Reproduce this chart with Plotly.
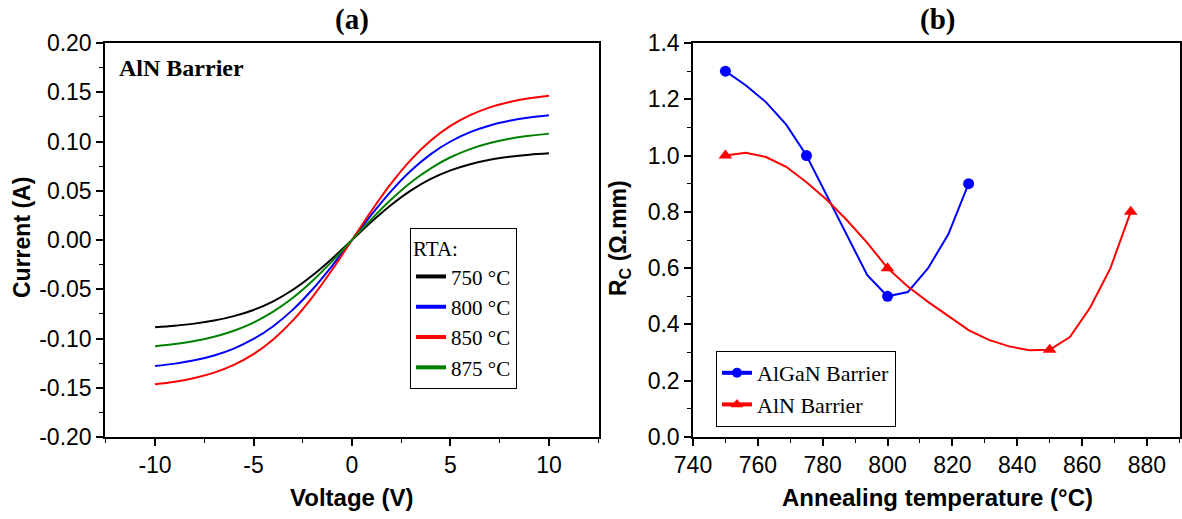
import plotly.graph_objects as go

# ---------------- data: panel (a) I-V curves ----------------
voltage = [-10, -9, -8, -7, -6, -5, -4, -3, -2, -1, 0, 1, 2, 3, 4, 5, 6, 7, 8, 9, 10]
i_750 = [-0.0885, -0.0870, -0.0849, -0.0818, -0.0773, -0.0710, -0.0622, -0.0505, -0.0358, -0.0187, 0.0,
         0.0187, 0.0358, 0.0504, 0.0620, 0.0707, 0.0770, 0.0815, 0.0845, 0.0866, 0.0880]
i_800 = [-0.1280, -0.1255, -0.1221, -0.1172, -0.1102, -0.1005, -0.0875, -0.0707, -0.0500, -0.0259, 0.0,
         0.0259, 0.0499, 0.0705, 0.0872, 0.1000, 0.1095, 0.1163, 0.1210, 0.1243, 0.1266]
i_850 = [-0.1465, -0.1439, -0.1401, -0.1346, -0.1267, -0.1158, -0.1009, -0.0816, -0.0577, -0.0300, 0.0,
         0.0300, 0.0577, 0.0816, 0.1009, 0.1158, 0.1267, 0.1346, 0.1401, 0.1439, 0.1465]
i_875 = [-0.1078, -0.1056, -0.1026, -0.0982, -0.0921, -0.0838, -0.0727, -0.0586, -0.0413, -0.0214, 0.0,
         0.0214, 0.0413, 0.0587, 0.0728, 0.0840, 0.0923, 0.0984, 0.1028, 0.1058, 0.1080]
rta_labels = ["750 °C", "800 °C", "850 °C", "875 °C"]

# ---------------- data: panel (b) contact resistance ----------------
algan_temp = [750, 775, 800, 825]
algan_rc = [1.30, 1.00, 0.50, 0.90]
algan_fit_temp = [750, 756.25, 762.5, 768.75, 775, 781.25, 787.5, 793.75, 800, 806.25, 812.5, 818.75, 825]
algan_fit_rc = [1.30, 1.25, 1.19, 1.11, 1.00, 0.86, 0.72, 0.575, 0.50, 0.515, 0.60, 0.72, 0.90]

aln_temp = [750, 800, 850, 875]
aln_rc = [1.00, 0.60, 0.31, 0.80]
aln_fit_temp = [750, 756.25, 762.5, 768.75, 775, 781.25, 787.5, 793.75, 800, 806.25, 812.5, 818.75,
                825, 831.25, 837.5, 843.75, 850, 856.25, 862.5, 868.75, 875]
aln_fit_rc = [1.00, 1.01, 0.995, 0.96, 0.905, 0.843, 0.77, 0.69, 0.60, 0.535, 0.48, 0.43,
              0.38, 0.345, 0.322, 0.308, 0.31, 0.355, 0.46, 0.60, 0.80]

# tick labels
ya_vals = [0.20, 0.15, 0.10, 0.05, 0.00, -0.05, -0.10, -0.15, -0.20]
ya_text = ["0.20", "0.15", "0.10", "0.05", "0.00", "-0.05", "-0.10", "-0.15", "-0.20"]
xa_vals = [-10, -5, 0, 5, 10]
xa_text = ["-10", "-5", "0", "5", "10"]

SANS = "Liberation Sans, Arial, sans-serif"
SERIF = "Liberation Serif, Times New Roman, serif"

fig = go.Figure()

colors_a = ["#000000", "#0000ff", "#ff0000", "#008000"]
for lab, ys, c in zip(rta_labels, [i_750, i_800, i_850, i_875], colors_a):
    fig.add_trace(go.Scatter(x=voltage, y=ys, mode="lines", name=lab, showlegend=False,
                             line=dict(color=c, width=2, shape="spline"),
                             xaxis="x", yaxis="y"))
# legend entries for panel a (thicker sample lines, as in the reference)
for lab, c in zip(rta_labels, colors_a):
    fig.add_trace(go.Scatter(x=[None], y=[None], mode="lines", name=lab,
                             line=dict(color=c, width=4), xaxis="x", yaxis="y", legend="legend"))

# panel b lines
fig.add_trace(go.Scatter(x=algan_fit_temp, y=algan_fit_rc, mode="lines", showlegend=False,
                         line=dict(color="#0000ff", width=2), xaxis="x2", yaxis="y2"))
fig.add_trace(go.Scatter(x=aln_fit_temp, y=aln_fit_rc, mode="lines", showlegend=False,
                         line=dict(color="#ff0000", width=2), xaxis="x2", yaxis="y2"))
fig.add_trace(go.Scatter(x=algan_temp, y=algan_rc, mode="markers", showlegend=False,
                         marker=dict(color="#0000ff", size=11, symbol="circle"), xaxis="x2", yaxis="y2"))
fig.add_trace(go.Scatter(x=aln_temp, y=aln_rc, mode="markers", showlegend=False,
                         marker=dict(color="#ff0000", size=12, symbol="triangle-up"), xaxis="x2", yaxis="y2"))
# legend entries for panel b
fig.add_trace(go.Scatter(x=[None], y=[None], mode="lines+markers", name="AlGaN Barrier",
                         line=dict(color="#0000ff", width=4), marker=dict(color="#0000ff", size=10, symbol="circle"),
                         xaxis="x2", yaxis="y2", legend="legend2"))
fig.add_trace(go.Scatter(x=[None], y=[None], mode="lines+markers", name="AlN Barrier",
                         line=dict(color="#ff0000", width=4), marker=dict(color="#ff0000", size=11, symbol="triangle-up"),
                         xaxis="x2", yaxis="y2", legend="legend2"))

axis_common = dict(showline=True, linecolor="black", linewidth=1.5, mirror=True, ticks="outside",
                   ticklen=7, tickwidth=1.5, tickcolor="black", showgrid=False, zeroline=False,
                   automargin=False, tickfont=dict(family=SANS, size=23, color="black"))
minor_common = dict(ticks="outside", ticklen=4, tickwidth=1.2, tickcolor="black", showgrid=False)

ydom = [82 / 519, 476 / 519]
fig.update_layout(
    template="none",
    width=1182, height=519,
    margin=dict(l=0, r=0, t=0, b=0),
    paper_bgcolor="white", plot_bgcolor="white",
    xaxis=dict(domain=[105 / 1182, 599 / 1182], range=[-12.54, 12.54], tickmode="array",
               tickvals=xa_vals, ticktext=xa_text, minor=dict(dtick=2.5, tick0=0, **minor_common),
               anchor="y", **axis_common),
    yaxis=dict(domain=ydom, range=[-0.2, 0.2], tickmode="array", tickvals=ya_vals, ticktext=ya_text,
               minor=dict(dtick=0.025, tick0=0, **minor_common), anchor="x", **axis_common),
    xaxis2=dict(domain=[693 / 1182, 1180 / 1182], range=[740, 890.2], tickmode="linear", tick0=740, dtick=20,
                minor=dict(dtick=10, tick0=740, **minor_common), anchor="y2", **axis_common),
    yaxis2=dict(domain=ydom, range=[0, 1.4], tickmode="linear", tick0=0, dtick=0.2, tickformat=".1f",
                minor=dict(dtick=0.1, tick0=0, **minor_common), anchor="x2", **axis_common),
    legend=dict(x=410 / 1182, y=1 - 228 / 519, xanchor="left", yanchor="top",
                bordercolor="black", borderwidth=1, bgcolor="white",
                font=dict(family=SERIF, size=21, color="black"),
                title=dict(text="RTA:", side="top", font=dict(family=SERIF, size=21, color="black")),
                tracegroupgap=0, itemwidth=30),
    legend2=dict(x=716 / 1182, y=1 - 351 / 519, xanchor="left", yanchor="top",
                 bordercolor="black", borderwidth=1, bgcolor="white",
                 font=dict(family=SERIF, size=22, color="black"),
                 tracegroupgap=0, itemwidth=30),
)

annots = [
    dict(text="<b>(a)</b>", x=352 / 1182, y=1 - 19 / 519, font=dict(family=SERIF, size=29)),
    dict(text="<b>(b)</b>", x=937 / 1182, y=1 - 19 / 519, font=dict(family=SERIF, size=29)),
    dict(text="<b>AlN Barrier</b>", x=117 / 1182, y=1 - 68 / 519, xanchor="left", font=dict(family=SERIF, size=24)),
    dict(text="<b>Current (A)</b>", x=22 / 1182, y=1 - 238 / 519, textangle=-90, font=dict(family=SANS, size=23)),
    dict(text="<b>Voltage (V)</b>", x=352 / 1182, y=1 - 497 / 519, font=dict(family=SANS, size=24)),
    dict(text="<b>R<sub>C</sub> (Ω.mm)</b>", x=620 / 1182, y=1 - 238 / 519, textangle=-90, font=dict(family=SANS, size=23)),
    dict(text="<b>Annealing temperature (°C)</b>", x=937 / 1182, y=1 - 497 / 519, font=dict(family=SANS, size=24)),
]
for a in annots:
    base = dict(xref="paper", yref="paper", showarrow=False, xanchor="center", yanchor="middle")
    base.update(a)
    base["font"] = dict(color="black", **a["font"])
    fig.add_annotation(**base)

fig.write_html("out.html")
